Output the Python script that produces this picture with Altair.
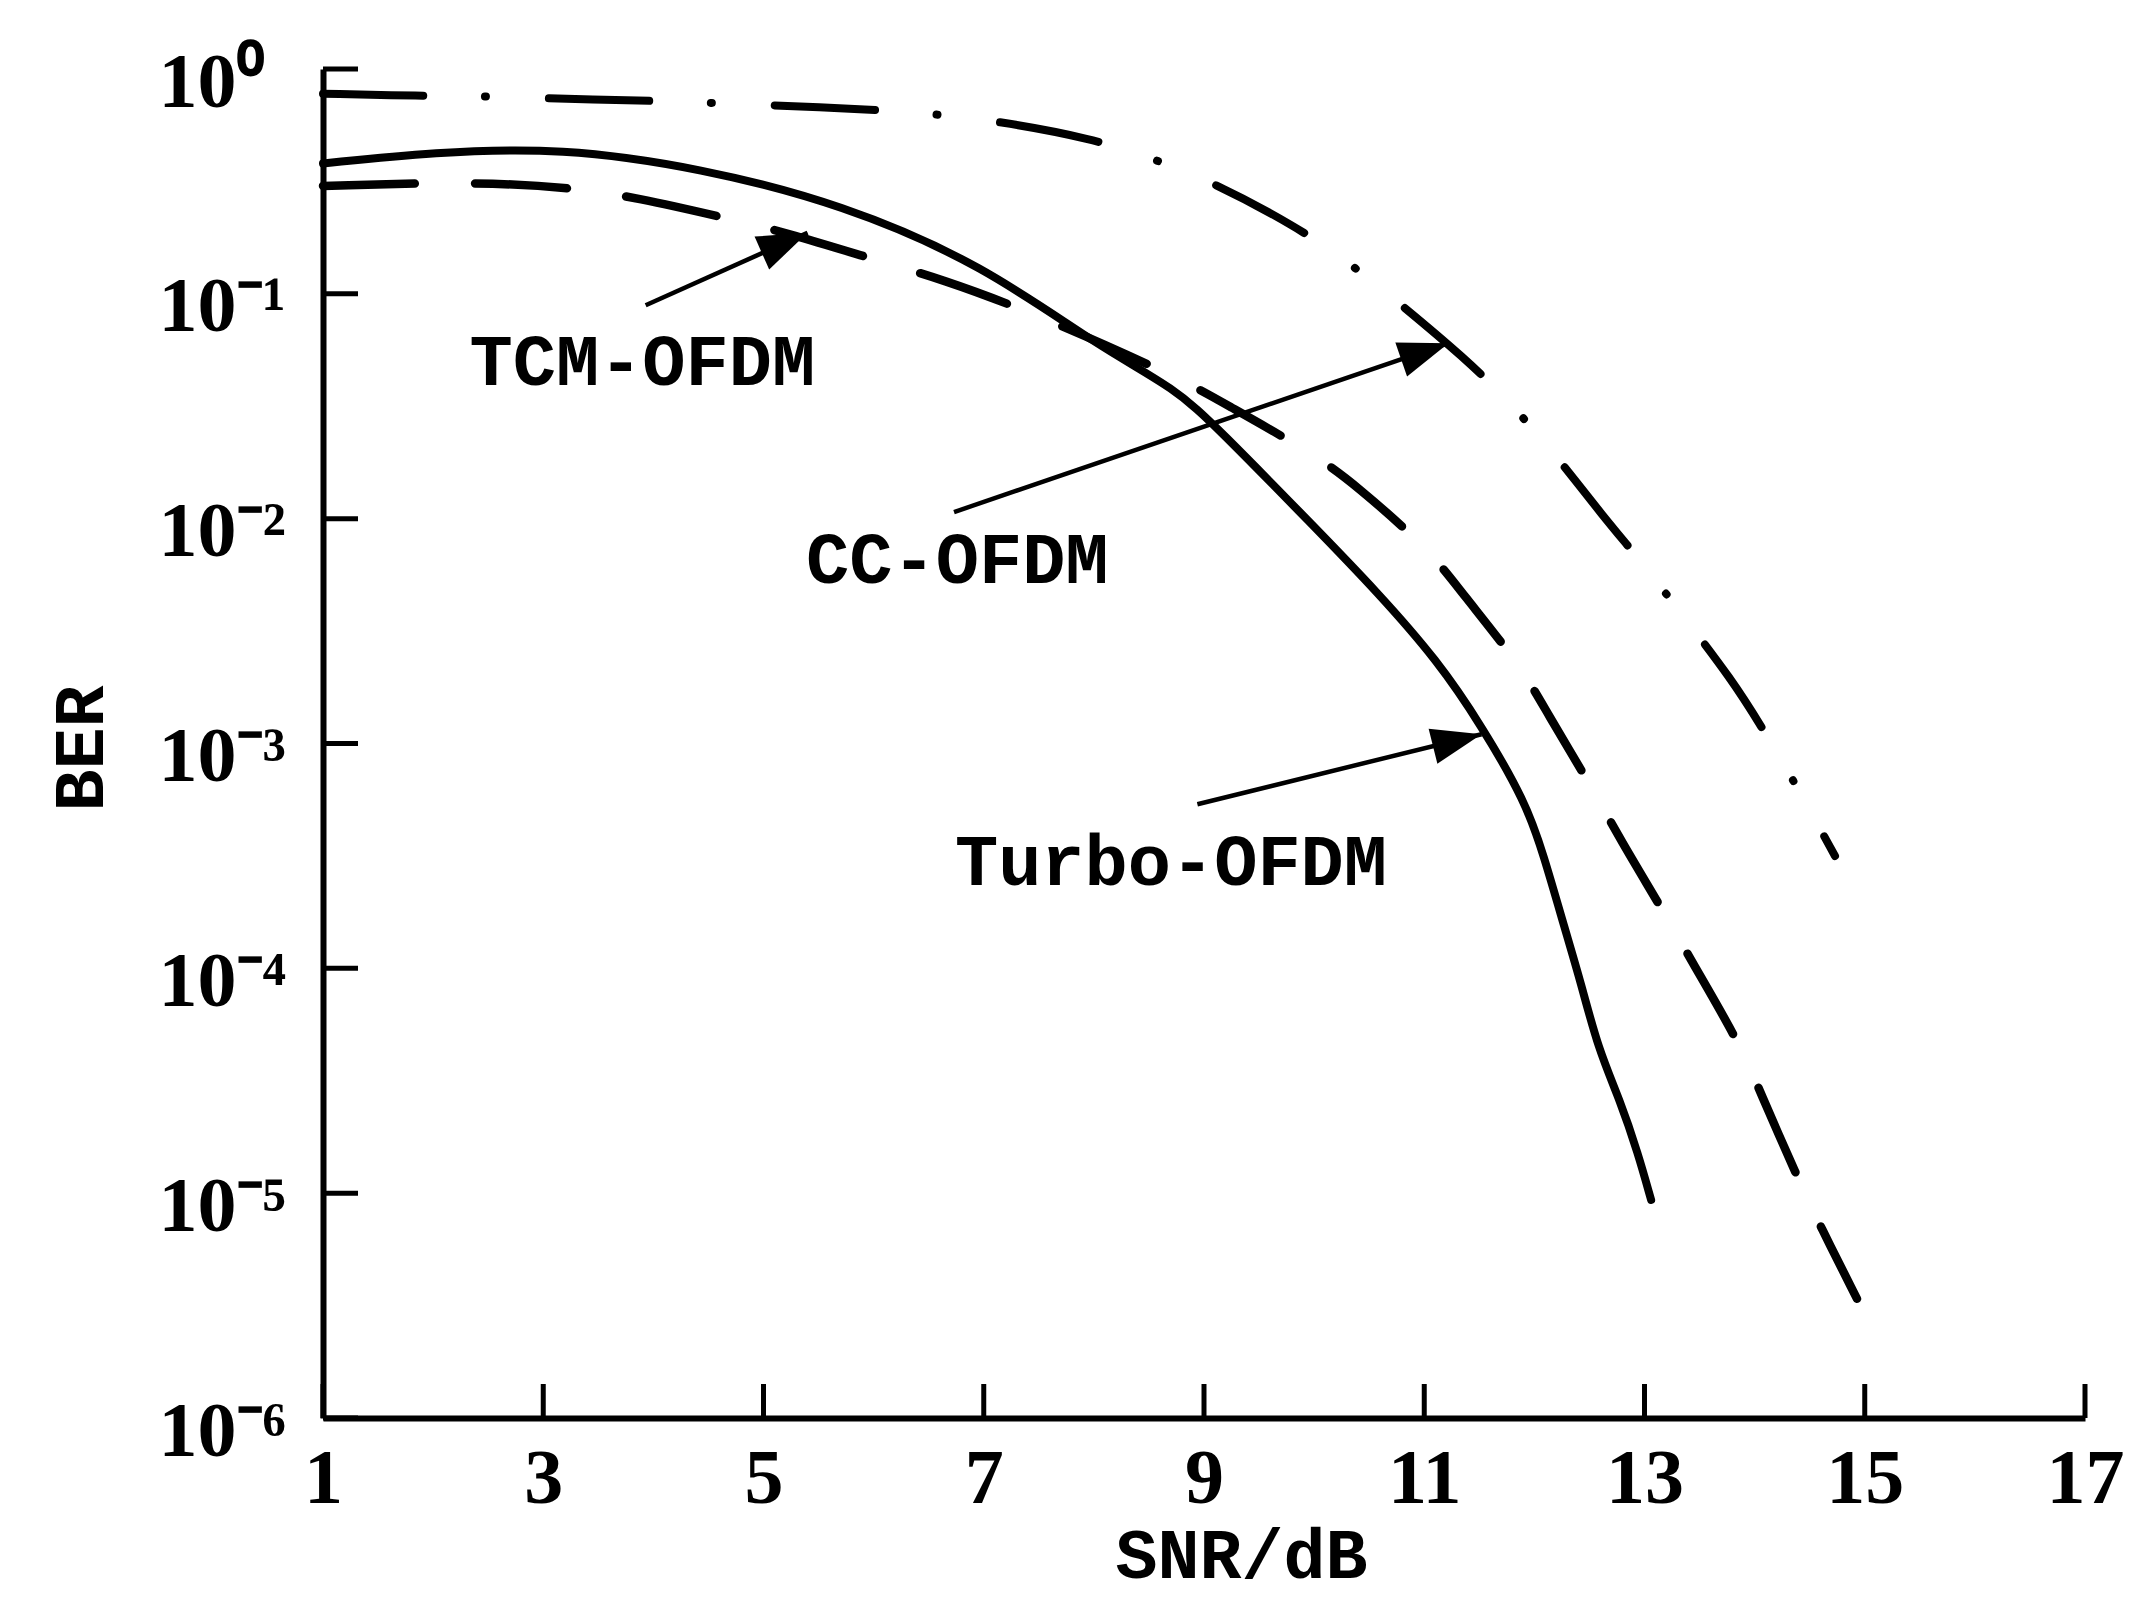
import altair as alt
import pandas as pd

# ---- data ----
snr_turbo = [1.0, 2.0, 3.16, 4.43, 5.71, 6.99, 8.06, 8.74, 9.13, 9.99, 10.58, 11.12, 11.52,
             11.92, 12.08, 12.28, 12.42, 12.58, 12.78, 12.94, 13.06]
ber_turbo = [0.380, 0.427, 0.447, 0.363, 0.251, 0.135, 0.0575, 0.0380, 0.0251, 0.00933, 0.00468,
             0.00234, 0.00120, 5.50e-4, 3.24e-4, 1.48e-4, 8.71e-5, 4.37e-5, 2.57e-5, 1.51e-5, 9.33e-6]

snr_tcm = [1.0, 2.4, 3.3, 3.83, 4.72, 5.23, 6.09, 6.6, 7.43, 8.76, 9.19, 9.99, 10.38, 11.05,
           11.34, 11.87, 12.11, 12.54, 12.77, 13.2, 13.43, 13.86, 14.05, 14.39, 14.6, 14.93]
ber_tcm = [0.302, 0.316, 0.295, 0.269, 0.214, 0.186, 0.138, 0.117, 0.0832, 0.0427, 0.0324, 0.0195,
           0.0141, 0.00724, 0.00468, 0.00224, 0.00138, 6.17e-4, 3.80e-4, 1.70e-4, 1.07e-4, 4.68e-5,
           2.82e-5, 1.17e-5, 7.08e-6, 3.39e-6]

snr_cc = [1.0, 1.9, 2.43, 2.97, 3.93, 4.47, 5.01, 5.99, 6.54, 7.11, 8.0, 8.54, 9.07, 9.83, 10.29,
          10.72, 11.38, 11.77, 12.15, 12.64, 12.97, 13.3, 13.8, 14.08, 14.36, 14.73]
ber_cc = [0.776, 0.759, 0.759, 0.741, 0.724, 0.708, 0.692, 0.661, 0.631, 0.589, 0.490, 0.398, 0.316,
          0.200, 0.141, 0.0955, 0.0513, 0.0331, 0.0204, 0.0100, 0.00646, 0.00398, 0.00191, 0.00115,
          6.76e-4, 3.16e-4]

x_ticks = [1, 3, 5, 7, 9, 11, 13, 15, 17]
y_ticks = [1, 1e-1, 1e-2, 1e-3, 1e-4, 1e-5, 1e-6]
y_tick_labels = ["10⁰", "10⁻¹", "10⁻²", "10⁻³", "10⁻⁴", "10⁻⁵", "10⁻⁶"]

ann_labels = ["TCM-OFDM", "CC-OFDM", "Turbo-OFDM"]
ann_snr = [3.90, 6.76, 8.70]
ann_ber = [0.049, 0.0065, 2.95e-4]
arrow_from_snr = [3.93, 6.73, 8.94]
arrow_from_ber = [0.089, 0.0107, 5.37e-4]
arrow_to_snr = [5.40, 11.22, 11.52]
arrow_to_ber = [0.187, 0.0603, 1.10e-3]
arrow_angle = [66, 71, 76]

# ---- layout ----
W, H = 1762, 1349
SERIF = "Liberation Serif"
MONO = "Liberation Mono"

label_expr = "''"
for v, lab in reversed(list(zip(y_ticks, y_tick_labels))):
    label_expr = f"datum.value >= {v * 0.5} ? '{lab}' : ({label_expr})"

x_scale = alt.Scale(domain=[1, 17], nice=False, zero=False)
y_scale = alt.Scale(type="log", domain=[1e-6, 1], nice=False)

x_axis = alt.Axis(values=x_ticks, title="SNR/dB", grid=False, ticks=False, tickSize=0,
                  domainColor="black", domainWidth=6, labelColor="black",
                  labelFont=SERIF, labelFontWeight="bold", labelFontSize=78,
                  labelPadding=22, labelFlush=False, labelOverlap=False,
                  titleFont=MONO, titleFontWeight="bold", titleFontSize=70,
                  titleColor="black", titleX=918, titleY=174,
                  titleAlign="center", titleBaseline="bottom")
y_axis = alt.Axis(values=y_ticks, labelExpr=label_expr, title="BER", grid=False,
                  ticks=False, tickSize=0, domainColor="black", domainWidth=6,
                  labelColor="black", labelFont=SERIF, labelFontWeight="bold",
                  labelFontSize=78, labelPadding=165, labelAlign="left", labelOffset=14,
                  labelFlush=False, labelOverlap=False, labelBaseline="middle",
                  titleFont=MONO, titleFontWeight="bold", titleFontSize=70,
                  titleColor="black", titleAngle=270, titleX=-242, titleY=679,
                  titleAlign="center", titleBaseline="middle")


def X(field="snr"):
    return alt.X(f"{field}:Q", scale=x_scale, axis=x_axis)


def Y(field="ber"):
    return alt.Y(f"{field}:Q", scale=y_scale, axis=y_axis)


df_turbo = pd.DataFrame({"snr": snr_turbo, "ber": ber_turbo})
df_tcm = pd.DataFrame({"snr": snr_tcm, "ber": ber_tcm})
df_cc = pd.DataFrame({"snr": snr_cc, "ber": ber_cc})

turbo = alt.Chart(df_turbo).mark_line(color="black", strokeWidth=8, interpolate="basis",
                                      strokeCap="round").encode(x=X(), y=Y())
tcm = alt.Chart(df_tcm).mark_line(color="black", strokeWidth=8.5, interpolate="basis",
                                  strokeDash=[92, 60], strokeCap="round").encode(x=X(), y=Y())
cc = alt.Chart(df_cc).mark_line(color="black", strokeWidth=8, interpolate="basis",
                                strokeDash=[100, 62, 1, 63], strokeCap="round").encode(x=X(), y=Y())

df_xt = pd.DataFrame({"snr": x_ticks})
df_yt = pd.DataFrame({"ber": y_ticks})
xt = alt.Chart(df_xt).mark_rule(color="black", strokeWidth=5).encode(
    x=X(), y=alt.value(H), y2=alt.value(H - 34))
yt = alt.Chart(df_yt).mark_rule(color="black", strokeWidth=5).encode(
    y=Y(), x=alt.value(0), x2=alt.value(35))

df_ann = pd.DataFrame({"snr": ann_snr, "ber": ann_ber, "label": ann_labels})
texts = alt.Chart(df_ann).mark_text(font=MONO, fontWeight="bold", fontSize=72, color="black",
                                     align="center", baseline="middle").encode(
    x=X(), y=Y(), text="label:N")

df_arr = pd.DataFrame({"snr": arrow_from_snr, "ber": arrow_from_ber,
                       "snr2": arrow_to_snr, "ber2": arrow_to_ber})
arrows = alt.Chart(df_arr).mark_rule(color="black", strokeWidth=4.5).encode(
    x=X(), y=Y(), x2="snr2:Q", y2="ber2:Q")

df_head = pd.DataFrame({"snr": arrow_to_snr, "ber": arrow_to_ber, "angle": arrow_angle})
heads = alt.Chart(df_head).mark_point(shape="M0,0L-0.36,1L0.36,1Z", filled=True, size=10000,
                                      color="black", opacity=1).encode(
    x=X(), y=Y(), angle=alt.Angle("angle:Q", scale=None))

chart = alt.layer(cc, tcm, turbo, xt, yt, arrows, heads, texts).properties(
    width=W, height=H,
    padding={"left": 315, "top": 61, "right": 45, "bottom": 179},
    autosize=alt.AutoSizeParams(type="none"),
    background="white",
).configure_view(stroke=None)

chart.save("out.html", embed_options={"renderer": "svg", "actions": False})
